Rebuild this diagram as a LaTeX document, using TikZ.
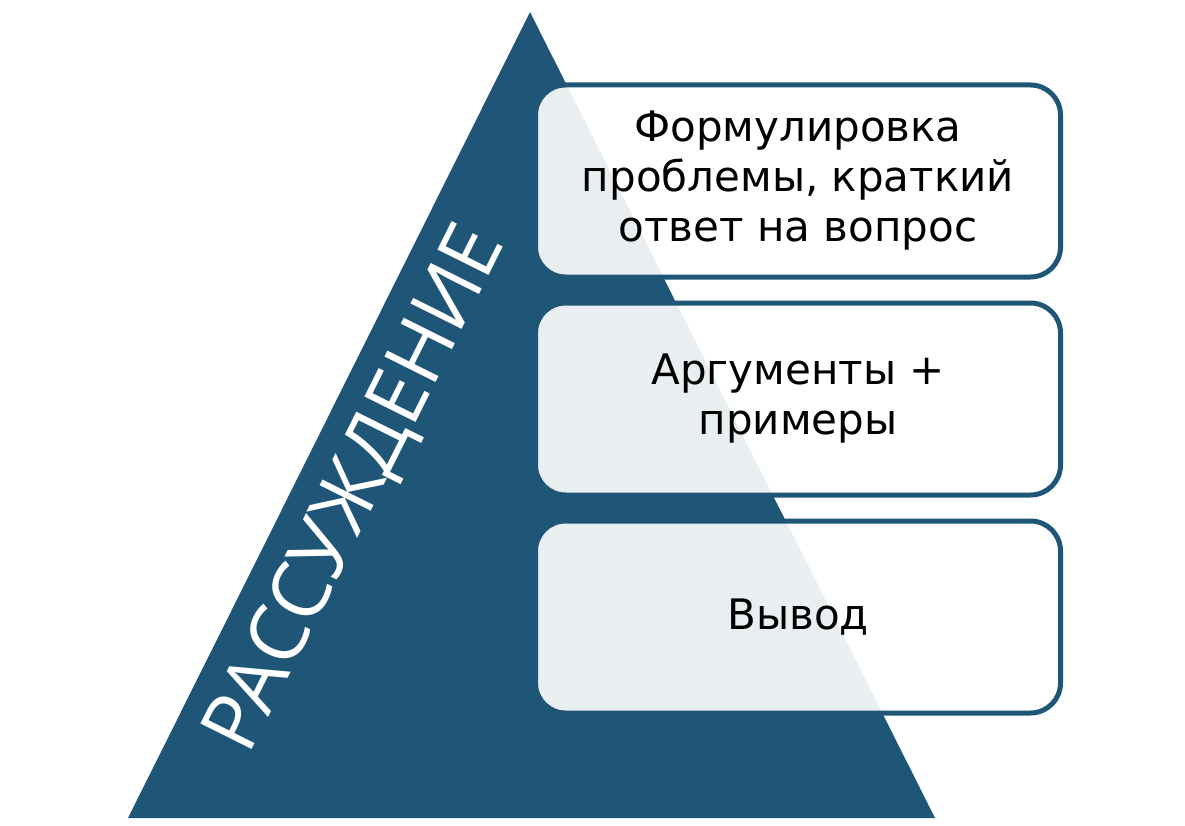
\documentclass[tikz,border=0pt]{standalone}
\usepackage{fontspec}
\setmainfont{DejaVu Sans}
\newfontfamily\thinfont{Open Sans}
\definecolor{db}{HTML}{1F5678}
\begin{document}
\begin{tikzpicture}[x=1pt,y=-1pt,
  boxst/.style={draw=db,line width=5pt,rounded corners=30pt,fill=white,fill opacity=0.9,text opacity=1,minimum width=525pt,minimum height=192pt,align=center,font=\fontsize{42}{50}\selectfont}]
\useasboundingbox (0,0) rectangle (1185,826);
\fill[db] (128,818) -- (530,12) -- (935,818) -- cycle;
\node[rotate=63.5,text=white,font=\thinfont\fontsize{80}{88}\selectfont] (title) at (358,490) {РАССУЖДЕНИЕ};
\node[boxst] (b1) at (798,181) {Формулировка\\проблемы, краткий\\ответ на вопрос};
\node[boxst] (b2) at (798,399) {Аргументы +\\примеры};
\node[boxst] (b3) at (798,617) {Вывод};
\end{tikzpicture}
\end{document}
